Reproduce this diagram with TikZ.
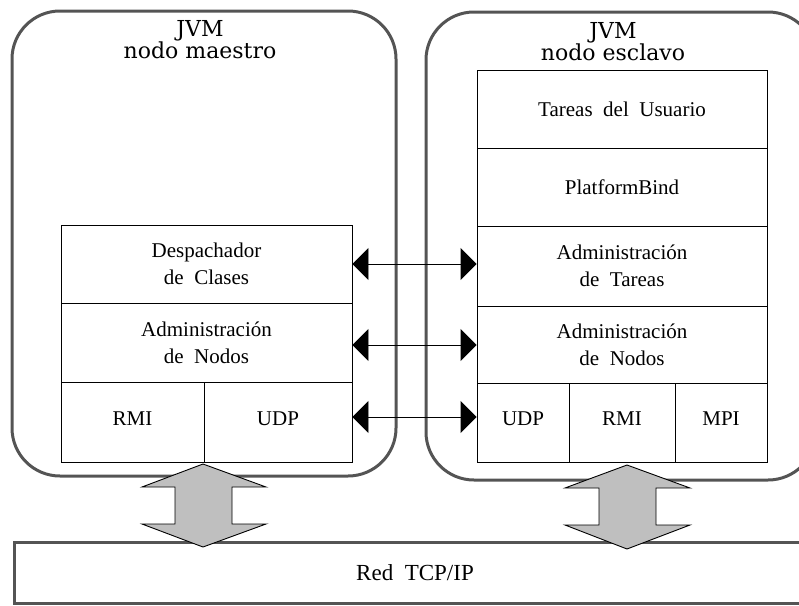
\documentclass[tikz,border=0pt]{standalone}
\usepackage{fontspec}
\setmainfont{Liberation Serif}
\newfontfamily\titlefont{DejaVu Serif}
\usetikzlibrary{arrows.meta}
\newcommand\lblfont{\fontsize{21}{27}\selectfont\spaceskip=0.5em plus 0.1em\relax}
\newcommand\ttlfont{\titlefont\fontsize{22}{22}\selectfont}
\newcommand\netfont{\fontsize{23}{23}\selectfont\spaceskip=0.5em plus 0.1em\relax}
\begin{document}
\begin{tikzpicture}[x=1pt,y=-1pt,
  jvm/.style={draw=black!67, line width=3pt, rounded corners=48pt},
  cell/.style={draw, line width=0.9pt, inner sep=0pt, align=center, font=\lblfont},
  proto/.style={cell, text height=14pt, text depth=8pt},
  title/.style={align=center, font=\ttlfont, inner sep=0pt},
  link/.style={line width=0.9pt, {Triangle[length=16pt,width=32pt]}-{Triangle[length=16pt,width=32pt]}},
  fat/.style={draw=black, line width=0.9pt, fill=black!25, line join=miter}
]
\useasboundingbox (0,0) rectangle (799,605);

% JVM containers
\draw[jvm] (12,11) rectangle (396,476);
\draw[jvm] (426,12) rectangle (816,480);
\node[title] (tm) at (200,40) {JVM\\nodo maestro};
\node[title] (te) at (613,42) {JVM\\nodo esclavo};

% master node stack
\node[cell, minimum width=291pt, minimum height=78pt] (desp) at (206.5,264) {Despachador\\de Clases};
\node[cell, minimum width=291pt, minimum height=79pt] (admNm) at (206.5,342.5) {Administración\\de Nodos};
\node[proto, minimum width=143pt, minimum height=80pt] (rmiM) at (132.5,422) {RMI};
\node[proto, minimum width=148pt, minimum height=80pt] (udpM) at (278,422) {UDP};

% slave node stack
\node[cell, minimum width=290pt, minimum height=78pt] (user) at (622,109) {Tareas del Usuario};
\node[cell, minimum width=290pt, minimum height=78pt] (bind) at (622,187) {PlatformBind};
\node[cell, minimum width=290pt, minimum height=80pt] (admT) at (622,266) {Administración\\de Tareas};
\node[cell, minimum width=290pt, minimum height=77pt] (admNe) at (622,344.5) {Administración\\de Nodos};
\node[proto, minimum width=92pt, minimum height=79pt] (udpE) at (523,422.5) {UDP};
\node[proto, minimum width=106pt, minimum height=79pt] (rmiE) at (622,422.5) {RMI};
\node[proto, minimum width=92pt, minimum height=79pt] (mpiE) at (721,422.5) {MPI};

% network
\node[draw=black!67, line width=3pt, minimum width=802pt, minimum height=61pt, inner sep=0pt,
      font=\netfont] (tcp) at (415,572.5) {Red TCP/IP};

% links between the two nodes
\draw[link] (desp.east |- 0,264) -- (admT.west |- 0,264);
\draw[link] (admNm.east |- 0,345) -- (admNe.west |- 0,345);
\draw[link] (udpM.east |- 0,417) -- (udpE.west |- 0,417);

% wide arrows to the network
\draw[fat] (203,464) -- (266,487) -- (232,487) -- (232,524) -- (266,524) -- (203,547)
  -- (142,524) -- (175,524) -- (175,487) -- (142,487) -- cycle;
\draw[fat] (627,465) -- (690,488) -- (656,488) -- (656,525) -- (690,525) -- (627,549)
  -- (565,525) -- (599,525) -- (599,488) -- (565,488) -- cycle;
\end{tikzpicture}
\end{document}
